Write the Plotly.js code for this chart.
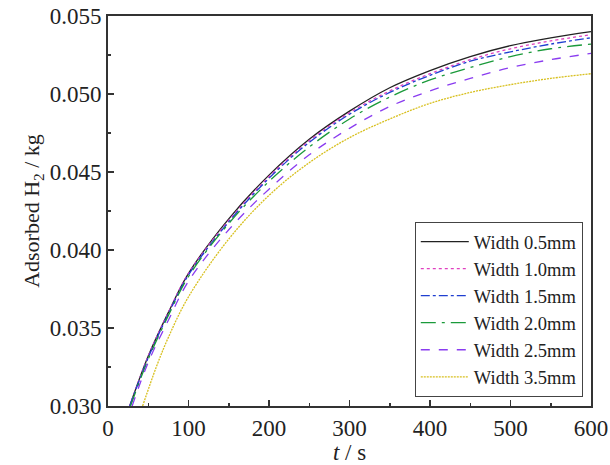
<!DOCTYPE html>
<html>
<head>
<meta charset="utf-8">
<script src="https://cdn.plot.ly/plotly-3.0.1.min.js"></script>
<style>html,body{margin:0;padding:0;background:#fff;}#chart{width:610px;height:465px;}</style>
</head>
<body>
<div id="chart"></div>
<script>
const seriesNames = ["Width 0.5mm", "Width 1.0mm", "Width 1.5mm", "Width 2.0mm", "Width 2.5mm", "Width 3.5mm"];
const tW05 = [27, 50, 75, 100, 150, 200, 250, 300, 350, 400, 450, 500, 550, 600];
const vW05 = [0.0300, 0.0332, 0.0360, 0.0385, 0.0420, 0.0448, 0.0471, 0.0489, 0.0504, 0.0515, 0.0524, 0.0531, 0.0536, 0.0540];
const tW10 = [27, 50, 75, 100, 150, 200, 250, 300, 350, 400, 450, 500, 550, 600];
const vW10 = [0.0300, 0.0332, 0.0360, 0.0385, 0.0419, 0.0447, 0.0470, 0.0488, 0.0502, 0.0513, 0.0522, 0.0529, 0.0534, 0.0538];
const tW15 = [27, 50, 75, 100, 150, 200, 250, 300, 350, 400, 450, 500, 550, 600];
const vW15 = [0.0300, 0.0331, 0.0359, 0.0384, 0.0418, 0.0446, 0.0469, 0.0487, 0.0501, 0.0512, 0.0521, 0.0527, 0.0532, 0.0536];
const tW20 = [28, 50, 75, 100, 150, 200, 250, 300, 350, 400, 450, 500, 550, 600];
const vW20 = [0.0300, 0.0330, 0.0358, 0.0383, 0.0417, 0.0444, 0.0466, 0.0484, 0.0498, 0.0509, 0.0517, 0.0524, 0.0529, 0.0532];
const tW25 = [30, 50, 75, 100, 150, 200, 250, 300, 350, 400, 450, 500, 550, 600];
const vW25 = [0.0300, 0.0328, 0.0355, 0.0380, 0.0413, 0.0439, 0.0461, 0.0478, 0.0492, 0.0502, 0.0510, 0.0517, 0.0522, 0.0526];
const tW35 = [43, 60, 75, 100, 150, 200, 250, 300, 350, 400, 450, 500, 550, 600];
const vW35 = [0.0300, 0.0325, 0.0344, 0.0370, 0.0407, 0.0435, 0.0456, 0.0472, 0.0484, 0.0494, 0.0501, 0.0506, 0.0510, 0.0513];

const xTicks = [0, 100, 200, 300, 400, 500, 600];
const yTicks = [0.030, 0.035, 0.040, 0.045, 0.050, 0.055];

const tData = [tW05, tW10, tW15, tW20, tW25, tW35];
const vData = [vW05, vW10, vW15, vW20, vW25, vW35];
const colors = ["#222222", "#e040c0", "#1f3fd0", "#1a9a3a", "#8a3cf0", "#d8c020"];
const dashes = ["solid", "dot", "dashdot", "longdashdot", "dash", "2px,1px"];

const traces = seriesNames.map((n, i) => ({
  type: "scatter", mode: "lines", name: n,
  x: tData[i], y: vData[i],
  line: {color: colors[i], width: 1.3, dash: dashes[i], shape: "spline", smoothing: 1}
}));

const font = "Liberation Serif, Times New Roman, serif";
const layout = {
  width: 610, height: 465,
  margin: {l: 108, r: 19, t: 16, b: 59},
  paper_bgcolor: "#fff", plot_bgcolor: "#fff",
  font: {family: font, color: "#222", size: 18},
  showlegend: true,
  legend: {
    x: 0.983, y: 0.023, xanchor: "right", yanchor: "bottom",
    bgcolor: "#fff", bordercolor: "#444", borderwidth: 1,
    font: {family: font, size: 18.5, color: "#222"},
    traceorder: "normal", itemwidth: 48
  },
  xaxis: {
    range: [0, 600], tickvals: xTicks, ticktext: xTicks.map(String),
    showgrid: false, zeroline: false,
    showline: true, linecolor: "#333", linewidth: 2, mirror: true,
    ticks: "inside", ticklen: 6, tickwidth: 1.5, tickcolor: "#333",
    minor: {dtick: 50, ticks: "inside", ticklen: 3, tickcolor: "#333", tickwidth: 1.5, showgrid: false},
    tickfont: {family: font, size: 23},
    title: {text: "<i>t</i> / s", font: {family: font, size: 23}, standoff: 0}
  },
  yaxis: {
    range: [0.030, 0.055], tickvals: yTicks, ticktext: yTicks.map(v => v.toFixed(3)),
    showgrid: false, zeroline: false,
    showline: true, linecolor: "#333", linewidth: 2, mirror: true,
    ticks: "inside", ticklen: 6, tickwidth: 1.5, tickcolor: "#333",
    minor: {dtick: 0.0025, ticks: "inside", ticklen: 3, tickcolor: "#333", tickwidth: 1.5, showgrid: false},
    tickfont: {family: font, size: 23},
    title: {text: "Adsorbed H<sub>2</sub> / kg", font: {family: font, size: 22}, standoff: 4}
  }
};
Plotly.newPlot("chart", traces, layout, {displayModeBar: false, staticPlot: true});
</script>
</body>
</html>
